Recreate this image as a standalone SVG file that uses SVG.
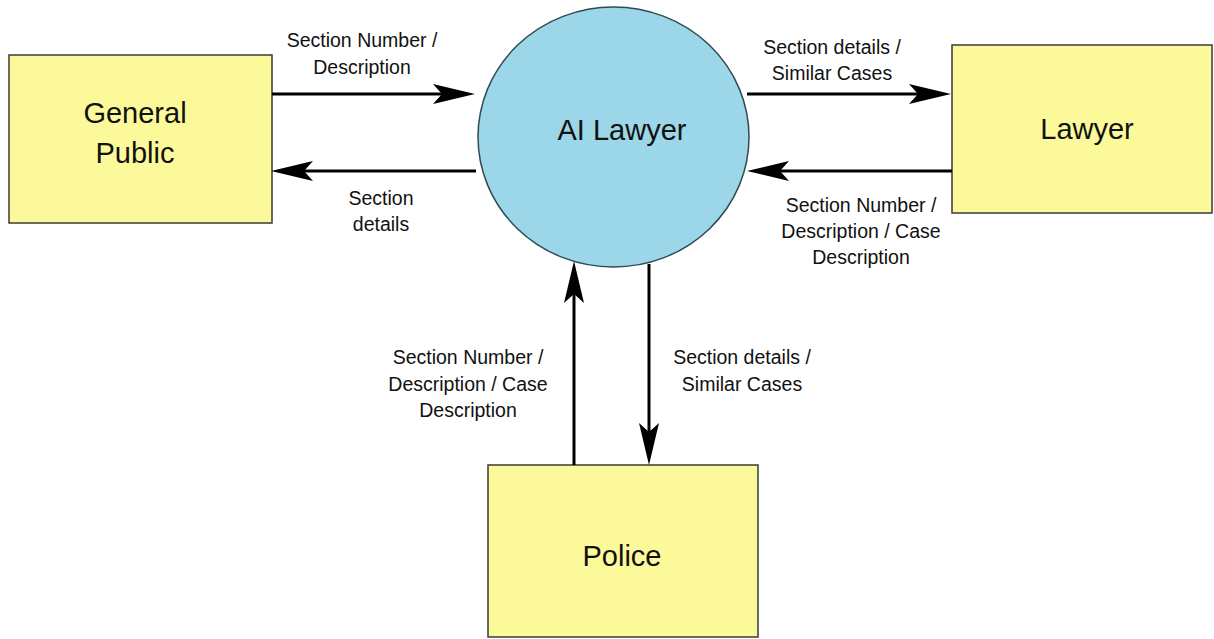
<svg xmlns="http://www.w3.org/2000/svg" width="1214" height="639" viewBox="0 0 1214 639">
  <style>
    .box { fill: #FCF99A; stroke: #3a3a3a; stroke-width: 1.5; }
    .proc { fill: #9BD7E8; stroke: #2f4a55; stroke-width: 1.5; }
    .node-label { font-family: "Liberation Sans", Arial, sans-serif; font-size: 29px; fill: #111; text-anchor: middle; }
    .flow-label { font-family: "Liberation Sans", Arial, sans-serif; font-size: 19.5px; fill: #111; text-anchor: middle; }
    .flow { stroke: #000; stroke-width: 3; fill: none; marker-end: url(#head); }
  </style>
  <defs>
    <!-- notched arrowhead; tip sits 20px beyond the line end -->
    <marker id="head" viewBox="0 0 42 20" refX="22" refY="10" markerWidth="42" markerHeight="20" markerUnits="userSpaceOnUse" orient="auto">
      <path d="M0,0 L42,10 L0,20 L9,10 Z" fill="#000"/>
    </marker>
  </defs>
  <rect width="1214" height="639" fill="#fff"/>

  <g id="general-public">
    <rect class="box" x="9" y="55" width="263" height="168"/>
    <text class="node-label" x="135" y="123">General</text>
    <text class="node-label" x="135" y="163">Public</text>
  </g>

  <g id="ai-lawyer">
    <ellipse class="proc" cx="613.5" cy="137" rx="135.5" ry="130"/>
    <text class="node-label" x="622" y="140">AI Lawyer</text>
  </g>

  <g id="lawyer">
    <rect class="box" x="952" y="45" width="260" height="168"/>
    <text class="node-label" x="1087" y="139">Lawyer</text>
  </g>

  <g id="police">
    <rect class="box" x="488" y="465" width="270" height="172"/>
    <text class="node-label" x="622" y="566">Police</text>
  </g>

  <g id="connectors">
    <!-- General Public <-> AI Lawyer -->
    <line class="flow" x1="272" y1="94" x2="455" y2="94"/>
    <line class="flow" x1="476" y1="171" x2="291" y2="171"/>
    <!-- AI Lawyer <-> Lawyer -->
    <line class="flow" x1="747" y1="94" x2="931" y2="94"/>
    <line class="flow" x1="952" y1="171" x2="767" y2="171"/>
    <!-- Police <-> AI Lawyer -->
    <line class="flow" x1="574" y1="465" x2="574" y2="281"/>
    <line class="flow" x1="649" y1="264" x2="649" y2="445"/>
  </g>

  <g id="flow-labels">
    <text class="flow-label" x="362" y="47">Section Number /</text>
    <text class="flow-label" x="362" y="74">Description</text>

    <text class="flow-label" x="381" y="205">Section</text>
    <text class="flow-label" x="381" y="231">details</text>

    <text class="flow-label" x="832" y="54">Section details /</text>
    <text class="flow-label" x="832" y="80">Similar Cases</text>

    <text class="flow-label" x="861" y="212">Section Number /</text>
    <text class="flow-label" x="861" y="238">Description / Case</text>
    <text class="flow-label" x="861" y="264">Description</text>

    <text class="flow-label" x="468" y="364">Section Number /</text>
    <text class="flow-label" x="468" y="391">Description / Case</text>
    <text class="flow-label" x="468" y="417">Description</text>

    <text class="flow-label" x="742" y="364">Section details /</text>
    <text class="flow-label" x="742" y="391">Similar Cases</text>
  </g>
</svg>
